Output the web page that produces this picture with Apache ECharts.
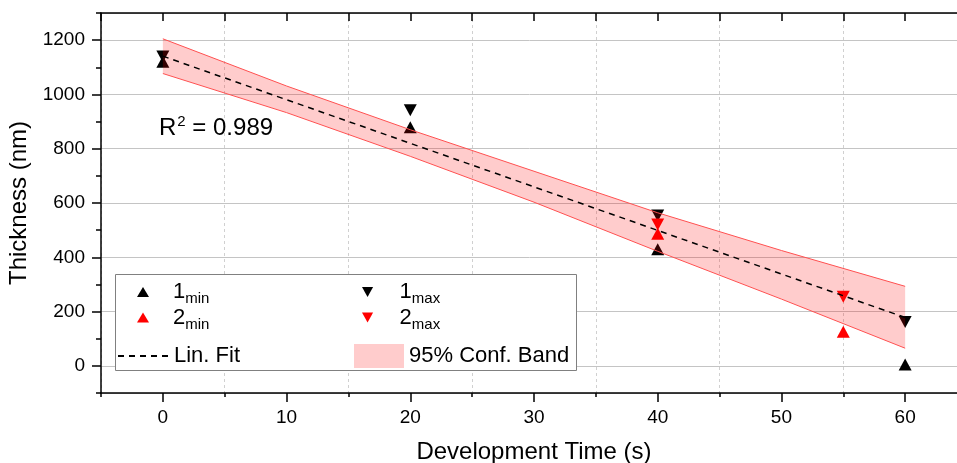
<!DOCTYPE html>
<html>
<head>
<meta charset="utf-8">
<script src="https://cdn.jsdelivr.net/npm/echarts@6/dist/echarts.min.js"></script>
<style>
html,body{margin:0;padding:0;background:#fff}
#main{width:957px;height:463px}
</style>
</head>
<body>
<div id="main"></div>
<script>
// data
var min1 = [[0, 1120], [20, 879], [40, 430], [60, 5]];
var max1 = [[0, 1140], [20, 942], [40, 554], [60, 162]];
var min2 = [[40, 487], [55, 126]];
var max2 = [[40, 521], [55, 255]];
var fitX = [0, 60];
var fitY = [1141, 178];
var bandX = [0, 10, 20, 30, 40, 50, 60];
var bandLow = [1077, 933, 772, 603, 422, 246, 65];
var bandHigh = [1205, 1031, 870, 717, 564, 425, 293];
var r2 = '0.989';

var FONT = 'Liberation Sans, Arial, sans-serif';
var DOWN = 'path://M0,0L20,0L10,18Z';
var subRich = {
    a: {fontSize: 22, fontFamily: FONT, color: '#000'},
    s: {fontSize: 15, fontFamily: FONT, color: '#000', padding: [14, 0, 0, 0]}
};
function subFmt(name) {
    return '{a|' + name.charAt(0) + '}{s|' + name.slice(1) + '}';
}
function plain(v) { return String(v); }

var chart = echarts.init(document.getElementById('main'));

function pts(arr) { return arr.map(function (p) { return [p[0], p[1]]; }); }

option = {
    animation: false,
    grid: {left: 101, top: 13, right: -10, bottom: 70, outerBoundsMode: 'none', containLabel: false},
    xAxis: [
        {
            type: 'value', min: -5, max: 65, splitNumber: 7, position: 'bottom',
            name: 'Development Time (s)', nameLocation: 'middle', nameGap: 47,
            nameTextStyle: {fontSize: 24, fontFamily: FONT, color: '#000'},
            axisLine: {show: true, onZero: false, lineStyle: {color: '#000', width: 1.5}},
            axisTick: {show: true, length: 9, lineStyle: {color: '#000', width: 1.5}},
            axisLabel: {fontSize: 19, fontFamily: FONT, color: '#000', margin: 15, showMinLabel: false, showMaxLabel: false, formatter: plain},
            splitLine: {show: false}
        },
        {
            type: 'value', min: -5, max: 65, interval: 5, position: 'bottom',
            axisLine: {show: false, onZero: false},
            axisTick: {show: true, length: 4, lineStyle: {color: '#000', width: 1.5}},
            axisLabel: {show: false},
            splitLine: {show: true, lineStyle: {color: ['#d0d0d0', 'transparent'], type: [3, 3], width: 1}}
        },
        {
            type: 'value', min: -5, max: 65, interval: 5, position: 'top',
            axisLine: {show: true, onZero: false, lineStyle: {color: '#000', width: 1.5}},
            axisTick: {show: true, inside: true, length: 8, lineStyle: {color: '#000', width: 1.5}},
            axisLabel: {show: false},
            splitLine: {show: false}
        }
    ],
    yAxis: [
        {
            type: 'value', min: -100, max: 1300, splitNumber: 7, position: 'left',
            name: 'Thickness (nm)', nameLocation: 'middle', nameGap: 65,
            nameTextStyle: {fontSize: 24, fontFamily: FONT, color: '#000'},
            axisLine: {show: true, onZero: false, lineStyle: {color: '#000', width: 1.5}},
            axisTick: {show: true, length: 9, lineStyle: {color: '#000', width: 1.5}},
            axisLabel: {fontSize: 19, fontFamily: FONT, color: '#000', margin: 16, showMinLabel: false, showMaxLabel: false, formatter: plain},
            splitLine: {show: true, lineStyle: {color: '#c4c4c4', width: 1}}
        },
        {
            type: 'value', min: -100, max: 1300, interval: 100, position: 'left',
            axisLine: {show: false, onZero: false},
            axisTick: {show: true, length: 5, lineStyle: {color: '#000', width: 1.5}},
            axisLabel: {show: false},
            splitLine: {show: false}
        }
    ],
    legend: [
        {
            data: ['1min', '2min'], orient: 'vertical', left: 137, top: 281, padding: 0, itemGap: 0,
            itemWidth: 12, itemHeight: 10, z: 100,
            textStyle: {padding: [0, 0, 0, 19], rich: subRich}, formatter: subFmt
        },
        {
            data: ['1max', '2max'], orient: 'vertical', left: 362, top: 281, padding: 0, itemGap: 0,
            itemWidth: 12, itemHeight: 10, z: 100,
            textStyle: {padding: [0, 0, 0, 21], rich: subRich}, formatter: subFmt
        },
        {
            data: ['Lin. Fit'], left: 117, top: 345, padding: 0, itemWidth: 51, itemHeight: 14, z: 100,
            itemStyle: {color: 'transparent', borderColor: 'transparent', borderWidth: 0},
            textStyle: {fontSize: 22, fontFamily: FONT, color: '#000'}
        },
        {
            data: [{name: '95% Conf. Band', icon: 'rect'}], left: 354, top: 344, padding: 0,
            itemWidth: 50, itemHeight: 24, z: 100,
            textStyle: {fontSize: 22, fontFamily: FONT, color: '#000'}
        }
    ],
    graphic: [
        {
            type: 'rect', left: 115, top: 274, z: 50,
            shape: {width: 461, height: 96},
            style: {fill: '#fff', stroke: '#808080', lineWidth: 1}
        },
        {
            type: 'text', left: 159, top: 114, z: 100,
            style: {
                text: '{a|R}{b|2}{a| = ' + r2 + '}',
                rich: {
                    a: {fontSize: 24, fontFamily: FONT, fill: '#000'},
                    b: {fontSize: 15, fontFamily: FONT, fill: '#000', padding: [0, 0, 13, 1]}
                }
            }
        }
    ],
    series: [
        {name: '1min', type: 'scatter', data: pts(min1), symbol: 'triangle', symbolSize: [13, 12], itemStyle: {color: '#000', opacity: 1}, z: 2},
        {name: '1max', type: 'scatter', data: pts(max1), symbol: DOWN, symbolSize: [13, 12], symbolKeepAspect: false, itemStyle: {color: '#000', opacity: 1}, z: 2},
        {name: '2min', type: 'scatter', data: pts(min2), symbol: 'triangle', symbolSize: [13, 12], itemStyle: {color: '#ff0000', opacity: 1}, z: 2},
        {name: '2max', type: 'scatter', data: pts(max2), symbol: DOWN, symbolSize: [13, 12], symbolKeepAspect: false, itemStyle: {color: '#ff0000', opacity: 1}, z: 2},
        {
            name: '95% Conf. Band', type: 'custom', z: 3,
            itemStyle: {color: 'rgba(255,0,0,0.2)'},
            data: bandX.map(function (x, i) { return [x, bandLow[i], bandHigh[i]]; }),
            encode: {x: 0, y: [1, 2]},
            renderItem: function (params, api) {
                if (params.dataIndex !== 0) return null;
                var top = [], bot = [];
                for (var i = 0; i < bandX.length; i++) {
                    top.push(api.coord([bandX[i], bandHigh[i]]));
                    bot.push(api.coord([bandX[i], bandLow[i]]));
                }
                return {
                    type: 'group',
                    children: [
                        {type: 'polygon', shape: {points: top.concat(bot.slice().reverse())}, style: {fill: 'rgba(255,0,0,0.2)', stroke: null}},
                        {type: 'polyline', shape: {points: top}, style: {stroke: '#ff5050', lineWidth: 1, fill: null}},
                        {type: 'polyline', shape: {points: bot}, style: {stroke: '#ff5050', lineWidth: 1, fill: null}}
                    ]
                };
            }
        },
        {
            name: 'Lin. Fit', type: 'line', z: 4, symbol: 'none',
            data: fitX.map(function (x, i) { return [x, fitY[i]]; }),
            lineStyle: {color: '#000', width: 1.5, type: [6, 5]},
            itemStyle: {color: '#000'}
        }
    ]
};
chart.setOption(option);
</script>
</body>
</html>
